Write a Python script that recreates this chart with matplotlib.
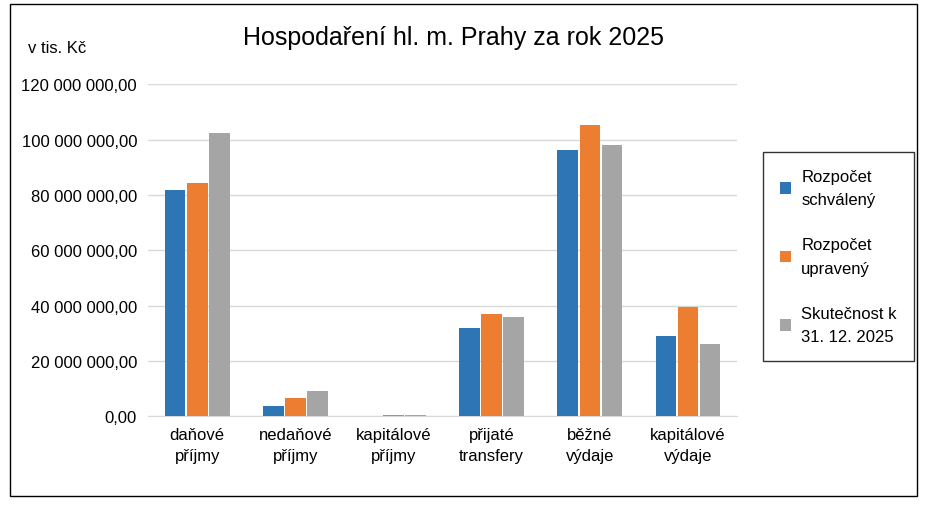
import matplotlib
matplotlib.use("Agg")
import matplotlib.pyplot as plt
from matplotlib.patches import Rectangle
import numpy as np

plt.rcParams['font.family'] = ['Liberation Sans', 'DejaVu Sans']

categories = ["daňové\npříjmy", "nedaňové\npříjmy", "kapitálové\npříjmy", "přijaté\ntransfery", "běžné\nvýdaje", "kapitálové\nvýdaje"]
series_names = ["Rozpočet\nschválený", "Rozpočet\nupravený", "Skutečnost k\n31. 12. 2025"]
schvaleny = [81.8e6, 3.8e6, 0.1e6, 31.9e6, 96.1e6, 28.9e6]
upraveny = [84.1e6, 6.5e6, 0.5e6, 37.1e6, 105.3e6, 39.6e6]
skutecnost = [102.3e6, 9.0e6, 0.6e6, 35.9e6, 97.9e6, 26.0e6]
colors = ["#2E75B6", "#ED7D31", "#A5A5A5"]

fig = plt.figure(figsize=(9.26, 5.10), dpi=100)
fig.patches.append(Rectangle((0.011, 0.025), 0.979, 0.965, transform=fig.transFigure,
                             fill=False, edgecolor='black', linewidth=1))
ax = fig.add_axes([0.160, 0.182, 0.636, 0.651])
x = np.arange(len(categories))
w = 0.21
for i, (vals, name) in enumerate(zip([schvaleny, upraveny, skutecnost], series_names)):
    ax.bar(x + (i - 1) * 0.225, vals, w, color=colors[i], label=name, zorder=3)
ax.set_ylim(0, 120e6)
ax.set_xlim(-0.5, 5.5)
ax.set_yticks(np.arange(0, 120e6 + 1, 20e6))
ax.set_yticklabels([f"{int(v):,}".replace(",", " ") + ",00" for v in np.arange(0, 120e6 + 1, 20e6)], fontsize=12)
ax.set_xticks(x)
ax.set_xticklabels(categories, fontsize=12, linespacing=1.5)
ax.tick_params(length=0, pad=8)
ax.grid(axis='y', color='#D9D9D9', linewidth=1, zorder=0)
for s in ['top', 'right', 'left']:
    ax.spines[s].set_visible(False)
ax.spines['bottom'].set_color('#D9D9D9')
fig.text(0.49, 0.925, "Hospodaření hl. m. Prahy za rok 2025", ha='center', va='center', fontsize=18)
fig.text(0.03, 0.905, "v tis. Kč", ha='left', va='center', fontsize=12)
leg = fig.legend(loc='upper left', bbox_to_anchor=(0.815, 0.716), fontsize=12, frameon=True,
                 fancybox=False, edgecolor='black', labelspacing=1.8, handlelength=0.7,
                 handleheight=0.7, borderpad=1.0, handletextpad=0.6)
for t in leg.get_texts():
    t.set_linespacing(1.7)
leg.get_frame().set_linewidth(1)
fig.savefig("out.png", dpi=100)
